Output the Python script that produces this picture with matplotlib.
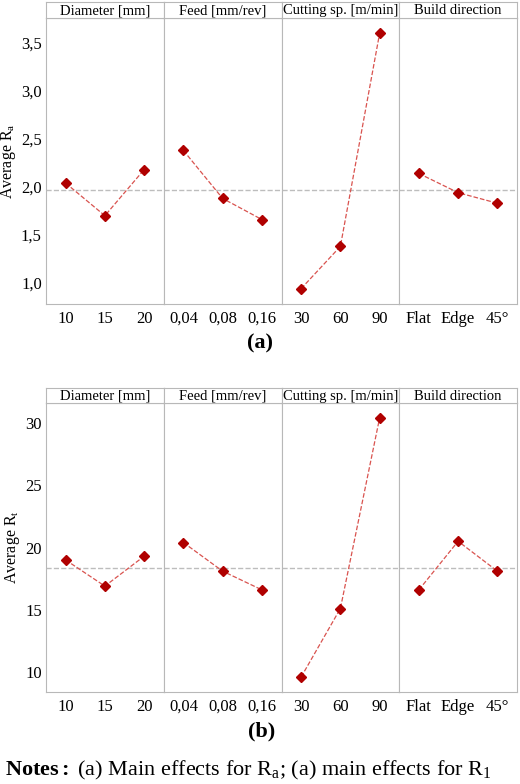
import matplotlib
matplotlib.use("Agg")
import matplotlib.pyplot as plt

plt.rcParams['font.family'] = ['Liberation Serif', 'DejaVu Serif']
plt.rcParams['mathtext.fontset'] = 'custom'
plt.rcParams['mathtext.rm'] = 'Liberation Serif'
plt.rcParams['mathtext.it'] = 'Liberation Serif:italic'
plt.rcParams['mathtext.bf'] = 'Liberation Serif:bold'

factors = ["Diameter [mm]", "Feed [mm/rev]", "Cutting sp. [m/min]", "Build direction"]
levels = [["10", "15", "20"], ["0,04", "0,08", "0,16"], ["30", "60", "90"], ["Flat", "Edge", "45°"]]

ra_means = [[2.04, 1.70, 2.18], [2.38, 1.88, 1.66], [0.94, 1.38, 3.60], [2.14, 1.94, 1.83]]
ra_overall = 1.97
rt_means = [[19.0, 16.9, 19.3], [20.4, 18.1, 16.6], [9.6, 15.1, 30.4], [16.6, 20.5, 18.1]]
rt_overall = 18.35

EDGE = '#b8b8b8'

def panel(fig, bottom, top, header_top, means, overall, ylim, yticks, ylabel, comma):
    left, right = 46 / 520, 517 / 520
    w = (right - left) / 4
    for i, (name, labs, vals) in enumerate(zip(factors, levels, means)):
        ax = fig.add_axes([left + i * w, bottom, w, top - bottom])
        ax.plot(range(3), vals, ls='--', color='#d9534f', lw=0.9, zorder=2)
        ax.plot(range(3), vals, ls='none', marker='D', ms=5, color='#b00000', zorder=3)
        ax.axhline(overall, color='#bdbdbd', ls='--', lw=1, zorder=1)
        ax.set_xlim(-0.5, 2.5)
        ax.set_ylim(*ylim)
        ax.set_xticks(range(3))
        ax.set_xticklabels(labs, fontsize=12)
        ax.tick_params(axis='x', length=0, pad=5)
        for s in ax.spines.values():
            s.set_color(EDGE)
        if i == 0:
            ax.set_yticks(yticks)
            if comma:
                ax.set_yticklabels([f"{v:.1f}".replace(".", ",") for v in yticks], fontsize=12)
            else:
                ax.set_yticklabels([str(v) for v in yticks], fontsize=12)
            ax.tick_params(axis='y', length=0, pad=3)
            ax.set_ylabel(ylabel, fontsize=11.5, labelpad=2)
        else:
            ax.set_yticks([])
        hx = fig.add_axes([left + i * w, top, w, header_top - top])
        hx.set_xticks([]); hx.set_yticks([])
        for s in hx.spines.values():
            s.set_color(EDGE)
        hx.text(0.5, 0.45, name, ha='center', va='center', fontsize=10.5, transform=hx.transAxes)

fig = plt.figure(figsize=(5.2, 7.84), dpi=100)
panel(fig, 1 - 304 / 784, 1 - 18 / 784, 1 - 2 / 784, ra_means, ra_overall,
      (0.78, 3.76), [1.0, 1.5, 2.0, 2.5, 3.0, 3.5], r"Average R$_\mathrm{a}$", True)
panel(fig, 1 - 692 / 784, 1 - 403 / 784, 1 - 388 / 784, rt_means, rt_overall,
      (8.4, 31.6), [10, 15, 20, 25, 30], r"Average R$_\mathrm{t}$", False)

fig.text(260 / 520, 1 - 343 / 784, "(a)", ha='center', va='center', fontsize=16, fontweight='bold')
fig.text(262 / 520, 1 - 731 / 784, "(b)", ha='center', va='center', fontsize=16, fontweight='bold')
fig.text(5 / 520, 1 - 770 / 784,
         r"$\mathbf{Notes:}$ (a) Main effects for R$_\mathrm{a}$; (a) main effects for R$_\mathrm{1}$",
         ha='left', va='center', fontsize=16)
fig.savefig("out.png", dpi=100)
